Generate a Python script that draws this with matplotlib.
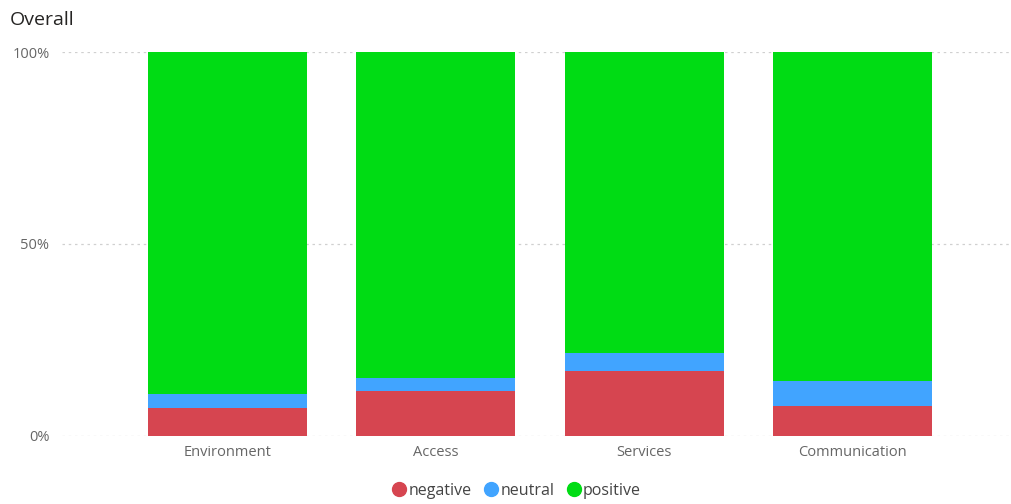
import numpy as np
import matplotlib.pyplot as plt
from matplotlib.lines import Line2D

plt.rcParams['font.family'] = ['Open Sans', 'DejaVu Sans']

categories = ['Environment', 'Access', 'Services', 'Communication']
negative = [7.1, 11.7, 16.7, 7.7]
neutral = [3.6, 3.2, 4.9, 6.6]
positive = [100 - n - m for n, m in zip(negative, neutral)]

series = [('negative', negative, '#D64550'),
          ('neutral', neutral, '#41A4FF'),
          ('positive', positive, '#00DC14')]

fig = plt.figure(figsize=(10.12, 5.04), dpi=100)
ax = fig.add_axes([62 / 1012, 68.5 / 504, 950 / 1012, 383.5 / 504])

x = np.arange(len(categories))
bottom = np.zeros(len(categories))
for name, vals, color in series:
    ax.bar(x, vals, width=0.763, bottom=bottom, color=color, label=name, zorder=2)
    bottom += np.array(vals)

ax.set_xlim(-0.795, 3.766)
ax.set_ylim(0, 100)
ax.set_yticks([0, 50, 100])
ax.set_yticklabels(['0%', '50%', '100%'])
ax.set_xticks(x)
ax.set_xticklabels(categories)
ax.tick_params(axis='both', length=0, labelsize=10.5, labelcolor='#666666')
ax.tick_params(axis='y', pad=9)
ax.tick_params(axis='x', pad=7)
ax.grid(axis='y', linestyle=(0, (2, 3)), color='#D0D0D0', linewidth=0.9, zorder=0)
for s in ax.spines.values():
    s.set_visible(False)

fig.text(10 / 1012, 1 - 20 / 504, 'Overall', fontsize=14, color='#252423', va='center', ha='left')

handles = [Line2D([0], [0], marker='o', linestyle='', markersize=10,
                  markerfacecolor=c, markeredgecolor=c, label=n) for n, _, c in series]
fig.legend(handles=handles, loc='center', bbox_to_anchor=(512 / 1012, 1 - 491 / 504),
           ncol=3, frameon=False, fontsize=11.5, handletextpad=-0.4, columnspacing=0.2,
           labelcolor='#444444')

fig.savefig('out.png', dpi=100)
